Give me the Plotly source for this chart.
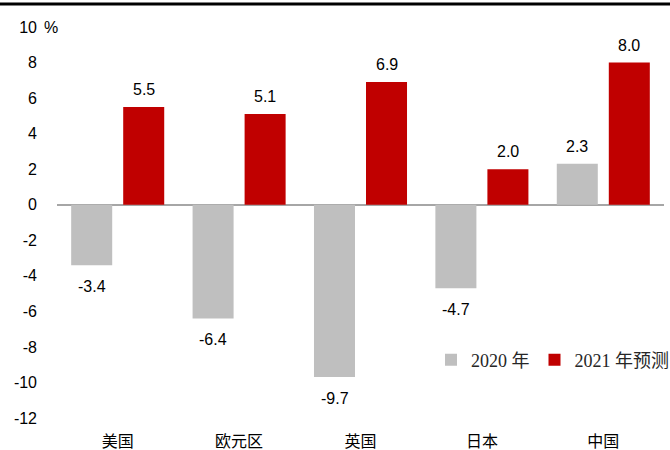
import plotly.graph_objects as go

categories = ["美国", "欧元区", "英国", "日本", "中国"]
values_2020 = [-3.4, -6.4, -9.7, -4.7, 2.3]
values_2021 = [5.5, 5.1, 6.9, 2.0, 8.0]
series_names = ["2020 年", "2021 年预测"]
y_ticks = [10, 8, 6, 4, 2, 0, -2, -4, -6, -8, -10, -12]

GRAY = "#BFBFBF"
RED = "#C00000"
NUM_FONT = "Liberation Sans, Arial, sans-serif"
SERIF_FONT = "Liberation Serif, Noto Sans CJK SC, serif"

L, R, T, B = 57, 6, 27, 32
W, H = 670, 450
pw = W - L - R
ph = H - T - B

fig = go.Figure()
fig.add_trace(go.Bar(x=categories, y=values_2020, name=series_names[0],
                     marker=dict(color=GRAY, line=dict(width=0))))
fig.add_trace(go.Bar(x=categories, y=values_2021, name=series_names[1],
                     marker=dict(color=RED, line=dict(width=0))))

# data labels
offset = 26
annotations = []
for vals, sh in ((values_2020, -offset), (values_2021, offset)):
    for c, v in zip(categories, vals):
        annotations.append(dict(
            x=c, y=v, xref="x", yref="y", text=f"{v:.1f}", showarrow=False,
            xshift=sh, yanchor="bottom" if v >= 0 else "top",
            yshift=7 if v >= 0 else -11,
            font=dict(family=NUM_FONT, size=16, color="#000000")))
annotations.append(dict(x=0, y=10, xref="paper", yref="y", text="%", showarrow=False,
                        xanchor="left", xshift=-15,
                        font=dict(family=NUM_FONT, size=16, color="#000000")))

fig.update_layout(
    width=W, height=H,
    margin=dict(l=L, r=R, t=T, b=B, autoexpand=False),
    paper_bgcolor="white", plot_bgcolor="white",
    barmode="group", bargap=0.143, bargroupgap=0.2115,
    showlegend=True,
    legend=dict(orientation="h", x=(431 - L) / pw, xanchor="left",
                y=(H - B - 360) / ph, yanchor="middle",
                font=dict(family=SERIF_FONT, size=18, color="#262626"),
                bgcolor="rgba(0,0,0,0)", itemwidth=30, tracegroupgap=0),
    xaxis=dict(showgrid=False, showline=False, ticks="",
               tickfont=dict(family=SERIF_FONT, size=16, color="#000000"),
               ticklabelstandoff=12),
    yaxis=dict(range=[-12, 10], tickvals=y_ticks, ticktext=[str(t) for t in y_ticks],
               showgrid=False, showline=False, ticks="",
               zeroline=True, zerolinecolor="#A6A6A6", zerolinewidth=2,
               tickfont=dict(family=NUM_FONT, size=16, color="#000000"),
               ticklabelstandoff=19),
    annotations=annotations,
    shapes=[dict(type="line", xref="paper", yref="paper",
                 x0=(0 - L) / pw, x1=(W - L) / pw,
                 y0=(H - B - 4) / ph, y1=(H - B - 4) / ph,
                 line=dict(color="#000000", width=3))],
)

fig.write_html("out.html", config={"displayModeBar": False},
               post_script="document.body.style.margin='0';document.body.style.padding='0';")
